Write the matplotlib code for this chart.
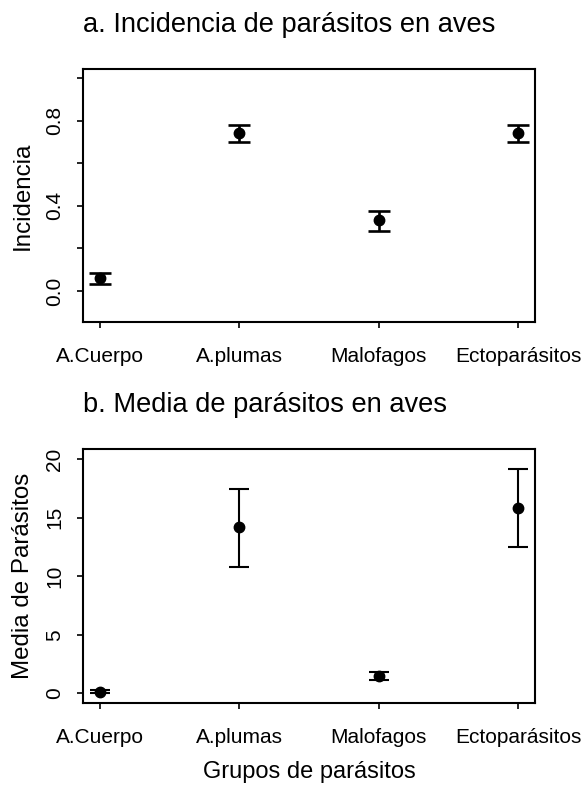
import matplotlib
matplotlib.use("Agg")
import matplotlib.pyplot as plt
import numpy as np

plt.rcParams['font.family'] = ['Liberation Sans', 'DejaVu Sans']

grupos = ["A.Cuerpo", "A.plumas", "Malofagos", "Ectoparásitos"]

# a. incidencia (media y limites del intervalo)
inc_media = [0.06, 0.742, 0.333, 0.742]
inc_inf = [0.033, 0.70, 0.283, 0.70]
inc_sup = [0.083, 0.78, 0.375, 0.78]

# b. media de parasitos
med_media = [0.15, 14.2, 1.5, 15.86]
med_inf = [0.05, 10.82, 1.15, 12.53]
med_sup = [0.25, 17.46, 1.85, 19.17]

fig = plt.figure(figsize=(5.85, 7.85), dpi=100)
x = np.arange(1, len(grupos) + 1)


def panel(ax, media, inf, sup, lw, cap):
    media = np.array(media)
    err = [media - np.array(inf), np.array(sup) - media]
    ax.errorbar(x, media, yerr=err, fmt='o', color='black', ms=7.5,
                elinewidth=lw, capsize=cap, capthick=lw)
    ax.set_xlim(0.878, 4.122)
    ax.set_xticks(x)
    ax.set_xticklabels(grupos, fontsize=15)
    for s in ax.spines.values():
        s.set_linewidth(1.5)
    ax.tick_params(axis='both', direction='out', length=4.5, width=1.2,
                   labelsize=15)
    ax.tick_params(axis='x', pad=13.5)
    ax.tick_params(axis='y', pad=9)


ax1 = fig.add_axes([0.1419, 0.5898, 0.7726, 0.3223])
panel(ax1, inc_media, inc_inf, inc_sup, 1.9, 8)
ax1.set_ylim(-0.146, 1.042)
ax1.set_yticks([0.0, 0.2, 0.4, 0.6, 0.8, 1.0])
ax1.set_yticklabels(['0.0', '', '0.4', '', '0.8', ''], rotation=90, va='center')
ax1.set_ylabel("Incidencia", fontsize=17.4, labelpad=8)

ax2 = fig.add_axes([0.1419, 0.1049, 0.7726, 0.3231])
panel(ax2, med_media, med_inf, med_sup, 1.5, 7)
ax2.set_ylim(-0.8, 20.88)
ax2.set_yticks([0, 5, 10, 15, 20])
ax2.set_yticklabels(['0', '5', '10', '15', '20'], rotation=90, va='center')
ax2.set_ylabel("Media de Parásitos", fontsize=17.4, labelpad=8)
ax2.set_xlabel("Grupos de parásitos", fontsize=17, labelpad=10)

fig.text(0.1419, 0.9596, "a. Incidencia de parásitos en aves", fontsize=19.6,
         ha='left', va='baseline')
fig.text(0.1419, 0.4752, "b. Media de parásitos en aves", fontsize=19.6,
         ha='left', va='baseline')

fig.savefig("out.png", dpi=100)
